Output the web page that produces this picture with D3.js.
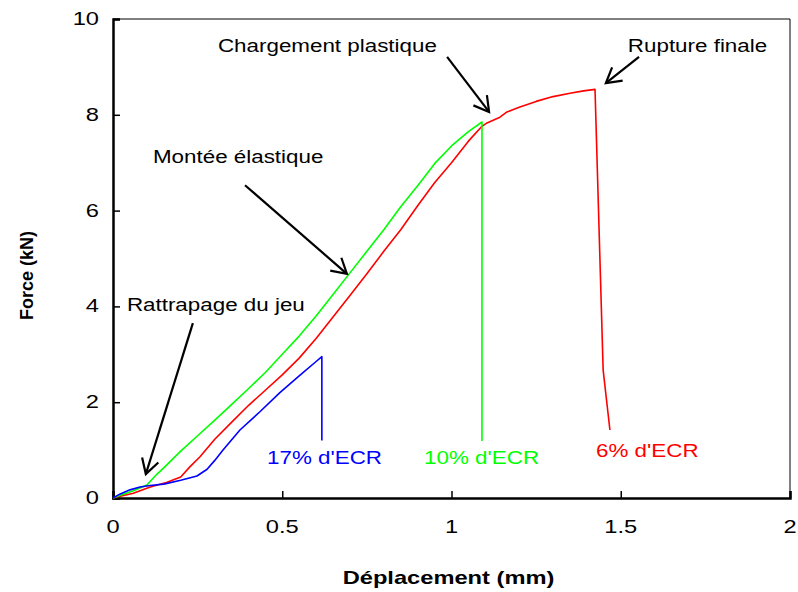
<!DOCTYPE html>
<html>
<head>
<meta charset="utf-8">
<script src="https://cdn.jsdelivr.net/npm/d3@7"></script>
<style>
    body { margin: 0; background: #fff; }
    text { font-family: Arial, "Liberation Sans", sans-serif; }
</style>
</head>
<body>
<div id="chart"></div>
<script>
// values: [deplacement (mm), force (kN)]
let red6 = [[0, 0], [0.06, 0.1], [0.11, 0.23], [0.16, 0.33], [0.2, 0.44], [0.227, 0.65], [0.257, 0.86],
    [0.3, 1.22], [0.35, 1.58], [0.4, 1.93], [0.45, 2.25], [0.5, 2.57], [0.55, 2.92], [0.6, 3.33],
    [0.65, 3.78], [0.7, 4.23], [0.75, 4.68], [0.8, 5.15], [0.85, 5.6], [0.9, 6.1], [0.95, 6.58],
    [1.0, 7.0], [1.05, 7.45], [1.09, 7.76], [1.105, 7.83], [1.143, 7.95], [1.164, 8.06], [1.2, 8.16],
    [1.25, 8.28], [1.3, 8.38], [1.35, 8.45], [1.39, 8.5], [1.424, 8.53], [1.448, 2.67], [1.468, 1.42]];
let green10 = [[0, 0], [0.03, 0.08], [0.06, 0.15], [0.1, 0.27], [0.13, 0.5], [0.15, 0.63], [0.2, 0.98],
    [0.25, 1.3], [0.3, 1.62], [0.35, 1.95], [0.4, 2.28], [0.45, 2.62], [0.5, 3.0], [0.55, 3.38],
    [0.6, 3.8], [0.65, 4.25], [0.7, 4.7], [0.75, 5.15], [0.8, 5.6], [0.85, 6.08], [0.9, 6.52],
    [0.95, 6.98], [1.0, 7.35], [1.05, 7.65], [1.09, 7.85], [1.09, 1.19]];
let blue17 = [[0, 0], [0.02, 0.08], [0.05, 0.17], [0.08, 0.23], [0.11, 0.26], [0.15, 0.29], [0.2, 0.37],
    [0.248, 0.46], [0.278, 0.6], [0.3, 0.78], [0.325, 1.0], [0.375, 1.42], [0.434, 1.8], [0.493, 2.2],
    [0.55, 2.55], [0.6, 2.85], [0.617, 2.95], [0.617, 1.2]];

let xTicks = [0, 0.5, 1, 1.5, 2];
let yTicks = [0, 2, 4, 6, 8, 10];

let seriesNames = ["6% d'ECR", "10% d'ECR", "17% d'ECR"];
let seriesColors = ["#ff0000", "#00ff00", "#0000ff"];
let seriesLabelPos = [[1.427, 0.98], [0.919, 0.835], [0.455, 0.835]];

// annotations: text, text position, arrow start, arrow tip (data units)
let notes = ["Rattrapage du jeu", "Montée élastique", "Chargement plastique", "Rupture finale"];
let notePos = [[0.041, 4.03], [0.118, 7.12], [0.31, 9.44], [1.521, 9.44]];
let arrowFrom = [[0.236, 3.65], [0.39, 6.53], [0.987, 9.21], [1.554, 9.21]];
let arrowTo = [[0.097, 0.5], [0.691, 4.68], [1.111, 8.06], [1.456, 8.66]];

let margin = {top: 19, right: 8, left: 113, bottom: 94};
let width = 798 - margin.left - margin.right;
let height = 592 - margin.top - margin.bottom;
let stretch = 1.28; // the picture's text is wider than plain Arial

let svg = d3.select("#chart")
    .append("svg")
    .attr("width", 798)
    .attr("height", 592);

let chart = svg.append("g")
    .attr("transform", "translate(" + margin.left + ", " + margin.top + ")");

let xScale = d3.scaleLinear().domain([0, 2]).range([0, width]);
let yScale = d3.scaleLinear().domain([0, 10]).range([height, 0]);

function label(parent, x, y, txt, size, color, anchor, weight) {
    let g = parent.append("g")
        .attr("transform", "translate(" + x + "," + y + ") scale(" + stretch + ",1)");
    return g.append("text")
        .attr("dominant-baseline", "central")
        .attr("text-anchor", anchor || "start")
        .attr("font-size", size)
        .attr("font-weight", weight || "normal")
        .attr("fill", color)
        .text(txt);
}

// frame top / right
chart.append("path")
    .attr("d", "M0,0H" + width + "V" + height)
    .attr("fill", "none")
    .attr("stroke", "#000")
    .attr("stroke-width", 1);

// axes with inward ticks
let xAxis = d3.axisBottom(xScale).tickValues(xTicks).tickSize(-7).tickFormat("");
let yAxis = d3.axisLeft(yScale).tickValues(yTicks).tickSize(-7).tickFormat("");

chart.append("g")
    .attr("transform", "translate(0," + height + ")")
    .call(xAxis)
    .call(g => g.select(".domain").attr("stroke-width", 2.5))
    .call(g => g.selectAll(".tick line").attr("stroke-width", 1.5));

chart.append("g")
    .call(yAxis)
    .call(g => g.select(".domain").attr("stroke-width", 2.5))
    .call(g => g.selectAll(".tick line").attr("stroke-width", 1.5));

xTicks.forEach(function (t) {
    label(chart, xScale(t), height + 29, d3.format("")(t), 18.5, "#000", "middle");
});
yTicks.forEach(function (t) {
    label(chart, -14, yScale(t), t, 18.5, "#000", "end");
});

label(chart, width / 2 - 3, height + 80, "Déplacement (mm)", 18.5, "#000", "middle", "bold");

svg.append("text")
    .attr("transform", "translate(27," + (margin.top + height / 2 + 17) + ") rotate(-90)")
    .attr("text-anchor", "middle")
    .attr("dominant-baseline", "central")
    .attr("font-size", 18)
    .attr("font-weight", "bold")
    .text("Force (kN)");

// curves
let line = d3.line()
    .x(d => xScale(d[0]))
    .y(d => yScale(d[1]));

[red6, green10, blue17].forEach(function (s, i) {
    chart.append("path")
        .datum(s)
        .attr("d", line)
        .attr("fill", "none")
        .attr("stroke", seriesColors[i])
        .attr("stroke-width", 1.6)
        .attr("stroke-linejoin", "round");

    label(chart, xScale(seriesLabelPos[i][0]), yScale(seriesLabelPos[i][1]), seriesNames[i], 17.5, seriesColors[i]);
});

// annotations with open arrowheads
notes.forEach(function (n, i) {
    label(chart, xScale(notePos[i][0]), yScale(notePos[i][1]), n, 17.5, "#000");

    let x0 = xScale(arrowFrom[i][0]), y0 = yScale(arrowFrom[i][1]);
    let x1 = xScale(arrowTo[i][0]), y1 = yScale(arrowTo[i][1]);
    let a = Math.atan2(y0 - y1, x0 - x1);
    let len = 17, spread = Math.PI / 6;

    chart.append("line")
        .attr("x1", x0).attr("y1", y0)
        .attr("x2", x1).attr("y2", y1)
        .attr("stroke", "#000")
        .attr("stroke-width", 2.2);

    chart.append("path")
        .attr("d", "M" + (x1 + len * Math.cos(a - spread)) + "," + (y1 + len * Math.sin(a - spread)) +
            "L" + x1 + "," + y1 +
            "L" + (x1 + len * Math.cos(a + spread)) + "," + (y1 + len * Math.sin(a + spread)))
        .attr("fill", "none")
        .attr("stroke", "#000")
        .attr("stroke-width", 2.2);
});
</script>
</body>
</html>
